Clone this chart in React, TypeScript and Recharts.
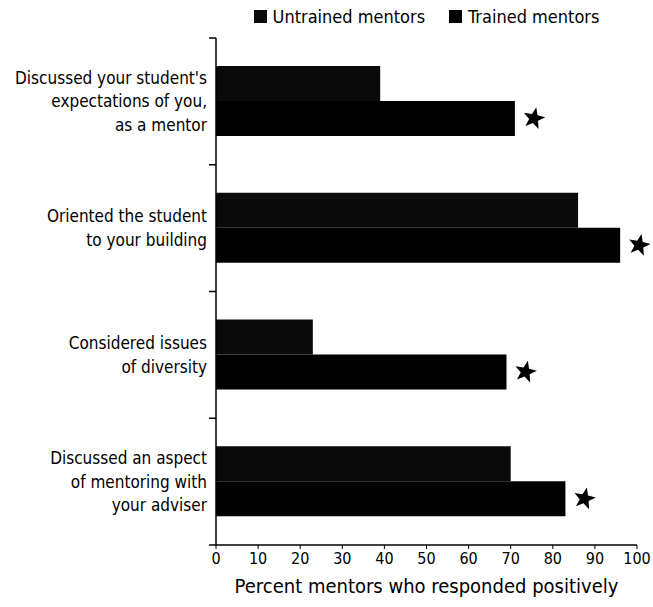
import { BarChart, Bar, XAxis, YAxis, Legend, LabelList } from 'recharts';

const categories = [
  "Discussed your student's\nexpectations of you,\nas a mentor",
  'Oriented the student\nto your building',
  'Considered issues\nof diversity',
  'Discussed an aspect\nof mentoring with\nyour adviser',
];
const untrained = [39, 86, 23, 70];
const trained = [71, 96, 69, 83];
const significant = [true, true, true, true];
const xTicks = [0, 10, 20, 30, 40, 50, 60, 70, 80, 90, 100];

const data = categories.map((label, i) => ({
  label,
  untrained: untrained[i],
  trained: trained[i],
  star: significant[i] ? 1 : 0,
}));

const FONT = "'DejaVu Sans Condensed', 'Liberation Sans Narrow', 'DejaVu Sans', sans-serif";

// label lines plus short tick marks on the band edges
function CategoryTick(props: any) {
  const { x, y, payload, index } = props;
  const lines = String(payload.value).split('\n');
  const lh = 23.5;
  const start = -((lines.length - 1) * lh) / 2;
  const half = payload.offset || 0;
  const last = index === categories.length - 1;
  return (
    <g>
      {half > 0 && <line x1={x - 7} x2={x} y1={y - half} y2={y - half} stroke="#000" strokeWidth={1.5} />}
      {half > 0 && last && <line x1={x - 7} x2={x} y1={y + half} y2={y + half} stroke="#000" strokeWidth={1.5} />}
      <text x={x - 9} y={y} textAnchor="end" fontSize={17} fontFamily={FONT} fill="#000">
        {lines.map((l, i) => (
          <tspan key={i} x={x - 9} y={y + start + i * lh} dy="0.35em">
            {l}
          </tspan>
        ))}
      </text>
    </g>
  );
}

function Star(props: any) {
  const { x, y, width, height, index } = props;
  if (!significant[index]) return null;
  const cx = x + width + 19;
  const cy = y + height / 2;
  const R = 11.5;
  const r = 4.8;
  const pts: string[] = [];
  for (let k = 0; k < 10; k++) {
    const a = (-90 + 12 + k * 36) * (Math.PI / 180);
    const rad = k % 2 === 0 ? R : r;
    pts.push(`${cx + rad * Math.cos(a)},${cy + rad * Math.sin(a)}`);
  }
  return <polygon points={pts.join(' ')} fill="#000" />;
}

function LegendContent() {
  const items = [
    { name: 'Untrained mentors', color: '#0a0a0a' },
    { name: 'Trained mentors', color: '#000' },
  ];
  return (
    <div style={{ display: 'flex', justifyContent: 'center', gap: 24, fontFamily: FONT, fontSize: 18 }}>
      {items.map((it) => (
        <span key={it.name} style={{ display: 'inline-flex', alignItems: 'center' }}>
          <span style={{ display: 'inline-block', width: 13, height: 13, background: it.color, marginRight: 6 }} />
          {it.name}
        </span>
      ))}
    </div>
  );
}

export default function App() {
  return (
    <div style={{ position: 'absolute', left: 0, top: 0, background: '#fff' }}>
      <BarChart
        width={653}
        height={607}
        data={data}
        layout="vertical"
        margin={{ top: 14, right: 16, left: 0, bottom: 0 }}
        barCategoryGap="22%"
        barGap={0}
      >
        <Legend
          verticalAlign="top"
          height={24}
          content={<LegendContent />}
          wrapperStyle={{ left: 216, width: 421, top: 6 }}
        />
        <XAxis
          type="number"
          domain={[0, 100]}
          ticks={xTicks}
          interval={0}
          height={62}
          tickSize={4}
          tickMargin={4}
          axisLine={{ stroke: '#000', strokeWidth: 1.5 }}
          tickLine={{ stroke: '#000' }}
          tick={{ fontSize: 16, fill: '#000', fontFamily: FONT }}
          label={{
            value: 'Percent mentors who responded positively',
            position: 'insideBottom',
            offset: 14,
            fontSize: 20,
            fill: '#000',
            fontFamily: FONT,
          }}
        />
        <YAxis
          type="category"
          dataKey="label"
          width={216}
          axisLine={{ stroke: '#000', strokeWidth: 1.5 }}
          tickLine={false}
          tickSize={0}
          tickMargin={0}
          interval={0}
          tick={<CategoryTick />}
        />
        <Bar dataKey="untrained" name="Untrained mentors" fill="#0a0a0a" isAnimationActive={false} />
        <Bar dataKey="trained" name="Trained mentors" fill="#000" isAnimationActive={false}>
          <LabelList dataKey="star" content={<Star />} />
        </Bar>
      </BarChart>
    </div>
  );
}
